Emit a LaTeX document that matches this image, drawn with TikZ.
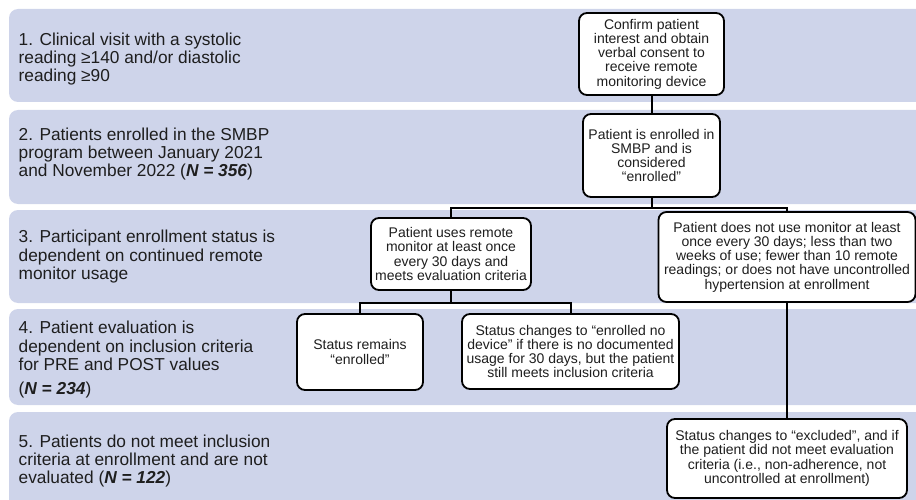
\documentclass[tikz,border=0pt]{standalone}
\usepackage{fontspec}
\setmainfont{Liberation Sans}
\usetikzlibrary{calc}
\definecolor{bandblue}{RGB}{206,212,234}
\definecolor{inkgray}{RGB}{30,30,30}

\begin{document}
\begin{tikzpicture}[x=1pt, y=-1pt,
		box/.style={draw=black, line width=1.8pt, rounded corners=8pt, fill=white, text=inkgray, align=center, inner sep=0pt, font=\fontsize{14}{14.3}\selectfont},
		steptext/.style={anchor=north west, align=left, inner sep=0pt, text=inkgray, font=\fontsize{17.3}{18.3}\selectfont},
		link/.style={line width=2pt}]
				\clip (0,0) rectangle (916,500);
				\foreach \top/\bot in {9/102, 110/204, 210/303, 309/405, 412/530}
					\fill[bandblue, rounded corners=9pt] (9,\top) rectangle (945,\bot);
				\node[steptext] (stepone) at (18.5,32.4) {1. Clinical visit with a systolic\\reading ≥140 and/or diastolic\\reading ≥90};
				\node[steptext] (steptwo) at (18.5,127.4) {2. Patients enrolled in the SMBP\\program between January 2021\\and November 2022 (\textbf{\textit{N = 356}})};
				\node[steptext] (stepthree) at (18.5,230) {3. Participant enrollment status is\\dependent on continued remote\\monitor usage};
				\node[steptext] (stepfour) at (18.5,321) {4. Patient evaluation is\\dependent on inclusion criteria\\for PRE and POST values\\[6pt](\textbf{\textit{N = 234}})};
				\node[steptext] (stepfive) at (18.5,434.5) {5. Patients do not meet inclusion\\criteria at enrollment and are not\\evaluated (\textbf{\textit{N = 122}})};
				\node[box, minimum width=145, minimum height=82] (confirm) at (651.5,54) {Confirm patient\\interest and obtain\\verbal consent to\\receive remote\\monitoring device};
				\node[box, minimum width=137, minimum height=83] (enrolled) at (651.5,155.5) {Patient is enrolled in\\SMBP and is\\considered\\“enrolled”};
				\node[box, minimum width=160, minimum height=72] (uses) at (451,254) {Patient uses remote\\monitor at least once\\every 30 days and\\meets evaluation criteria};
				\node[box, minimum width=257, minimum height=90] (notuse) at (787,257) {Patient does not use monitor at least\\once every 30 days; less than two\\weeks of use; fewer than 10 remote\\readings; or does not have uncontrolled\\hypertension at enrollment};
				\node[box, minimum width=126, minimum height=76] (remains) at (360,352) {Status remains\\“enrolled”};
				\node[box, minimum width=217, minimum height=75] (nodevice) at (570.5,351.5) {Status changes to “enrolled no\\device” if there is no documented\\usage for 30 days, but the patient\\still meets inclusion criteria};
				\node[box, minimum width=240, minimum height=79] (excluded) at (787,458.5) {Status changes to “excluded”, and if\\the patient did not meet evaluation\\criteria (i.e., non-adherence, not\\uncontrolled at enrollment)};
				\draw[link] (confirm.south) -- (enrolled.north);
				\draw[link] (enrolled.south) -- ++(0,10) -| (uses.north);
				\draw[link] (enrolled.south) -- ++(0,10) -| (notuse.north);
				\draw[link] (uses.south) -- ++(0,12) -| (remains.north);
				\draw[link] (uses.south) -- ++(0,12) -| (nodevice.north);
				\draw[link] (notuse.south) -- (excluded.north);
			\end{tikzpicture}
\end{document}
